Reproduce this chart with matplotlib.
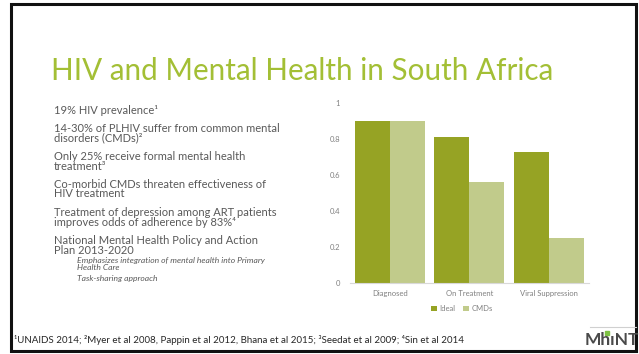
import numpy as np
import matplotlib.pyplot as plt
from matplotlib.patches import Rectangle

# data
categories = ['Diagnosed', 'On Treatment', 'Viral Suppression']
ideal = [0.90, 0.81, 0.73]
cmds = [0.90, 0.56, 0.25]
series_names = ['Ideal', 'CMDs']
yticks = [0, 0.2, 0.4, 0.6, 0.8, 1]
ytick_labels = ['0', '0.2', '0.4', '0.6', '0.8', '1']

title = 'HIV and Mental Health in South Africa'
bullets = [
    ['19% HIV prevalence¹'],
    ['14-30% of PLHIV suffer from common mental', 'disorders (CMDs)²'],
    ['Only 25% receive formal mental health', 'treatment³'],
    ['Co-morbid CMDs threaten effectiveness of', 'HIV treatment'],
    ['Treatment of depression among ART patients', 'improves odds of adherence by 83%⁴'],
    ['National Mental Health Policy and Action', 'Plan 2013-2020'],
]
sub_bullets = [
    ['Emphasizes integration of mental health into Primary', 'Health Care'],
    ['Task-sharing approach'],
]
footnote = ('¹UNAIDS 2014; ²Myer et al 2008, Pappin et al 2012, Bhana et al 2015; '
            '³Seedat et al 2009; ⁴Sin et al 2014')

W, H = 639, 354
fam = ['Lato', 'DejaVu Sans']
c_dark = '#96a324'
c_light = '#c1cb8b'
c_text = '#595959'
c_axis = '#808080'

fig = plt.figure(figsize=(W / 100, H / 100), dpi=100)
fig.patch.set_facecolor('white')

def fx(x):
    return x / W

def fy(y):
    return 1 - y / H

# slide frame
fig.patches.append(Rectangle((fx(11), fy(351)), fx(636) - fx(11), fy(4) - fy(351),
                             transform=fig.transFigure, fill=False,
                             edgecolor='#111111', linewidth=2.2))

# title
fig.text(fx(51), fy(80), title, family=fam, weight='normal', fontsize=21.3,
         color='#a3bf35', va='baseline', ha='left')

# bullet list
y = 110
for para in bullets:
    for j, line in enumerate(para):
        fig.text(fx(54), fy(y), line, family=fam, fontsize=8.0,
                 color=c_text, va='center', ha='left')
        y += 9.5 if j < len(para) - 1 else 0
    y += 18.5
y = 260
for para in sub_bullets:
    for j, line in enumerate(para):
        fig.text(fx(77), fy(y), line, family=fam, fontsize=6.1, style='italic',
                 color=c_text, va='center', ha='left')
        y += 8 if j < len(para) - 1 else 0
    y += 10.5

# footnote
fig.text(fx(14), fy(340), footnote, family=fam, fontsize=7.0,
         color='#262626', va='center', ha='left')

# logo
fig.add_artist(plt.Line2D([fx(590), fx(636)], [fy(327), fy(327)],
                          transform=fig.transFigure, color='#d0d0d0', lw=0.8))
fig.text(fx(585), fy(345), 'MhıNT', family=fam, weight='bold', fontsize=12.5,
         color='#4a4a4a', va='baseline', ha='left')
fig.add_artist(plt.Line2D([fx(607)], [fy(333)], transform=fig.transFigure,
                          marker='s', markersize=2.6, color='#7dc142', lw=0))

# chart
ax = fig.add_axes([fx(350), fy(282.7), (588.5 - 350) / W, (282.7 - 103.3) / H])
x = np.arange(len(categories))
w = 0.44
ax.bar(x - w / 2, ideal, w, color=c_dark, label=series_names[0])
ax.bar(x + w / 2, cmds, w, color=c_light, label=series_names[1])
ax.set_xlim(-0.5, 2.5)
ax.set_ylim(0, 1)
ax.set_yticks(yticks)
ax.set_yticklabels(ytick_labels)
ax.set_xticks(x)
ax.set_xticklabels(categories)
ax.tick_params(length=0, labelsize=5.5, labelcolor=c_axis)
ax.tick_params(axis='y', pad=7)
ax.tick_params(axis='x', pad=5)
for lab in ax.get_xticklabels() + ax.get_yticklabels():
    lab.set_family(fam)
for s in ['top', 'right', 'left']:
    ax.spines[s].set_visible(False)
ax.spines['bottom'].set_color('#d9d9d9')
ax.spines['bottom'].set_linewidth(0.8)
ax.patch.set_alpha(0)
leg = ax.legend(loc='center', bbox_to_anchor=(0.47, -0.145), ncol=2, frameon=False,
                handlelength=0.8, handleheight=0.8, handletextpad=0.3,
                columnspacing=1.0, prop={'family': fam, 'size': 5.5})
for t in leg.get_texts():
    t.set_color(c_axis)

fig.savefig('out.png', dpi=100)
